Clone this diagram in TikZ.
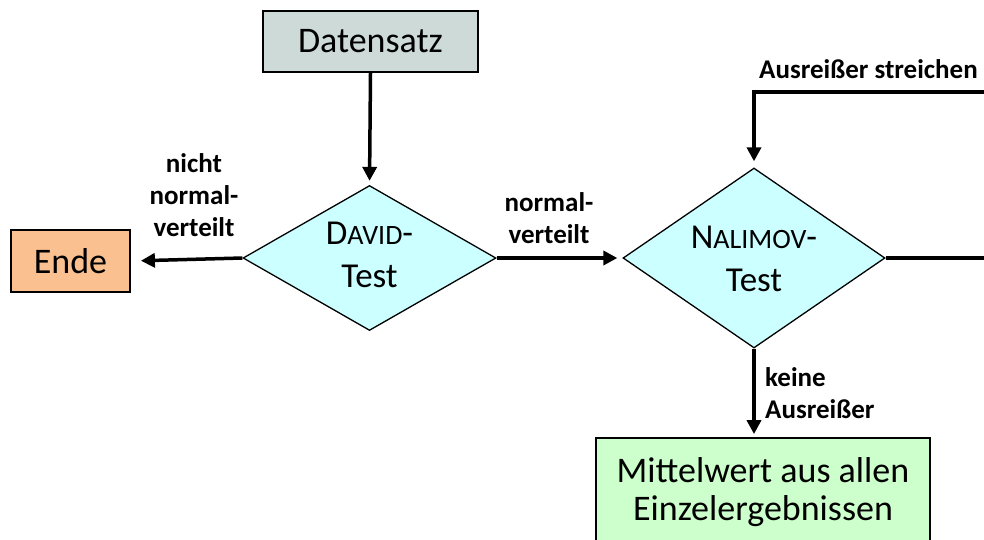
\documentclass[tikz,border=0pt]{standalone}
\usepackage{fontspec}
\setmainfont{Carlito}
\usetikzlibrary{shapes.geometric,arrows.meta}
\definecolor{dsfill}{HTML}{CDDAD7}
\definecolor{endfill}{HTML}{FAC090}
\definecolor{dfill}{HTML}{CCFFFF}
\definecolor{mfill}{HTML}{CCFFCC}
\begin{document}
\begin{tikzpicture}[x=1pt,y=-1pt,
 box/.style={draw=black,line width=1.8pt,inner sep=0pt,align=center},
 dec/.style={diamond,draw=black,line width=1.3pt,fill=dfill,inner sep=0pt},
 dectext/.style={inner sep=0pt,align=center,font=\fontsize{35}{43}\selectfont},
 conn/.style={line width=3.5pt,-{Triangle[length=14pt,width=14pt]}},
 lbl/.style={font=\bfseries\fontsize{27}{32}\selectfont,inner sep=0pt}]
\clip (0,0) rectangle (984,539);
\node[box,fill=dsfill,minimum width=215pt,minimum height=61pt,font=\fontsize{36}{40}\selectfont] (ds) at (370.5,41.5) {Datensatz};
\node[box,fill=endfill,minimum width=119pt,minimum height=62pt,font=\fontsize{36}{40}\selectfont] (ende) at (70.5,261) {Ende};
\node[dec,minimum width=253pt,minimum height=145pt] (david) at (369.5,258) {};
\node[dectext] (davidt) at (369.5,254.5) {D{\fontsize{28}{30}\selectfont AVID}-\\Test};
\node[dec,minimum width=262pt,minimum height=180pt] (nal) at (754,258) {};
\node[dectext] (nalt) at (754,258.5) {N{\fontsize{28}{30}\selectfont ALIMOV}-\\Test};
\node[box,fill=mfill,minimum width=334pt,minimum height=109pt,font=\fontsize{36}{38}\selectfont] (mw) at (763,492.5) {Mittelwert aus allen\\Einzelergebnissen};
\coordinate (r1) at (1000,258);
\coordinate (r2) at (1000,92);
\draw[conn,shorten >=4pt] (ds.south) -- (david.north);
\draw[conn,shorten >=10pt] (david.west) -- (ende.east);
\draw[conn,shorten >=5pt] (david.east) -- (nal.west);
\draw[conn,shorten >=3pt] (nal.south) -- (nal.south |- mw.north);
\draw[conn,shorten >=6pt] (nal.east) -- (r1) -- (r2) -| (nal.north);
\node[lbl,align=center] (l1) at (194,195.5) {nicht\\normal-\\verteilt};
\node[lbl,align=center] (l2) at (549,218.5) {normal-\\verteilt};
\node[lbl,anchor=base east] (l3) at (978,78) {Ausreißer streichen};
\node[lbl,align=left,anchor=west] (l4) at (765,393) {keine\\Ausreißer};
\end{tikzpicture}
\end{document}
